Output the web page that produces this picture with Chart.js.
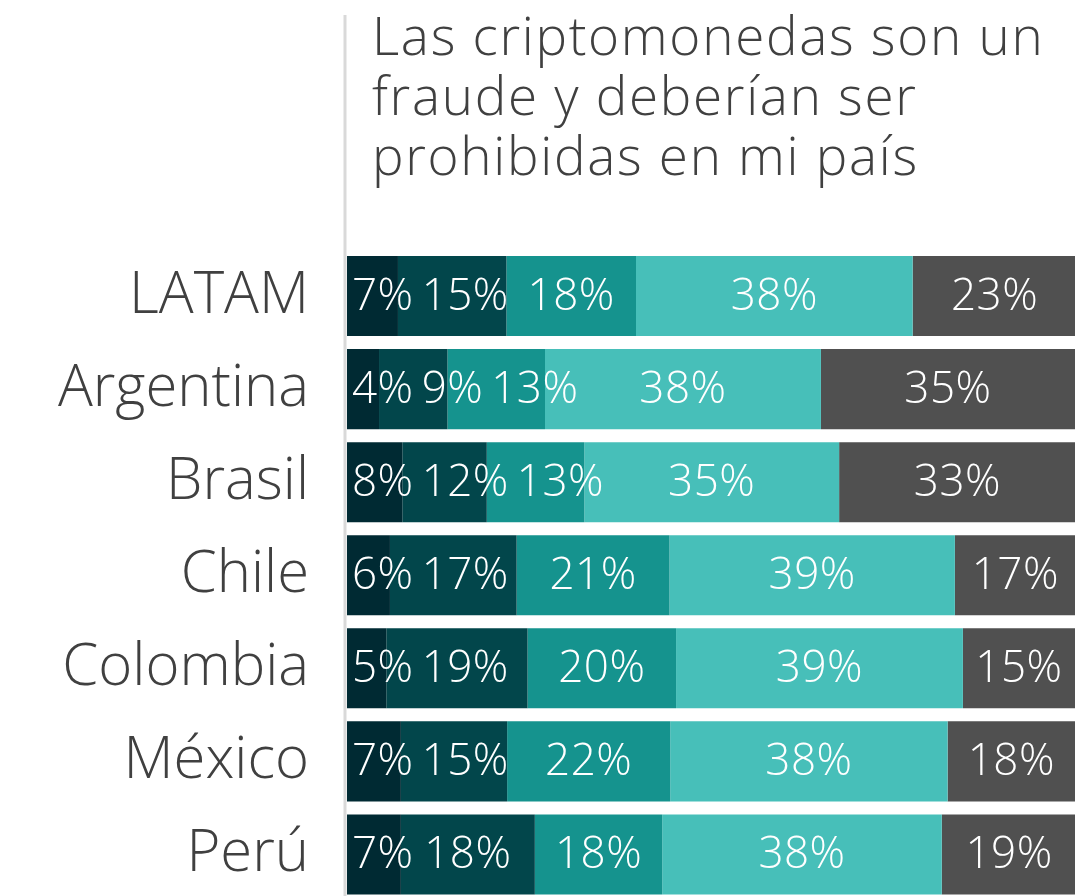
<!DOCTYPE html>
<html>
<head>
<meta charset="utf-8">
<script src="https://cdn.jsdelivr.net/npm/chart.js@4.4.1/dist/chart.umd.min.js"></script>
<style>
  html, body { margin: 0; padding: 0; background: #ffffff; overflow: hidden; }
  canvas { display: block; }
</style>
</head>
<body>
<canvas id="c" width="1075" height="901" style="width:1075px;height:901px"></canvas>
<script>
// ---- Data ----
const titleLines = ["Las criptomonedas son un", "fraude y deberían ser", "prohibidas en mi país"];
const categories = ["LATAM", "Argentina", "Brasil", "Chile", "Colombia", "México", "Perú"];
const seriesNames = ["Totalmente de acuerdo", "De acuerdo", "Neutral", "En desacuerdo", "Totalmente en desacuerdo"];
const s1 = [7.0, 4.4, 7.6, 5.9, 5.4, 7.4, 7.4];
const s2 = [14.9, 9.4, 11.6, 17.4, 19.4, 14.6, 18.4];
const s3 = [17.8, 13.4, 13.4, 21.0, 20.4, 22.4, 17.5];
const s4 = [38.0, 37.9, 35.0, 39.2, 39.4, 38.1, 38.4];
const s5 = [22.5, 34.9, 32.5, 16.6, 15.4, 17.5, 18.5];
const seriesColors = ["#002a33", "#02464b", "#15938e", "#47bfb9", "#505050"];

const FONT = "'Open Sans', 'DejaVu Sans', sans-serif";

const decorPlugin = {
  id: 'decor',
  beforeDatasetsDraw(chart) {
    const ctx = chart.ctx;
    const left = chart.chartArea.left;
    ctx.save();
    ctx.strokeStyle = '#d9d9d9';
    ctx.lineWidth = 3;
    ctx.beginPath();
    ctx.moveTo(left - 2, 15);
    ctx.lineTo(left - 2, chart.height);
    ctx.stroke();
    // title
    ctx.fillStyle = '#404040';
    ctx.font = '300 53px ' + FONT;
    ctx.letterSpacing = '1.7px';
    ctx.textAlign = 'left';
    ctx.textBaseline = 'alphabetic';
    titleLines.forEach((t, i) => ctx.fillText(t, left + 25, 55 + i * 60));
    ctx.restore();
  },
  afterDatasetsDraw(chart) {
    const ctx = chart.ctx;
    ctx.save();
    ctx.font = '300 44px ' + FONT;
    ctx.letterSpacing = '0.5px';
    ctx.fillStyle = '#ffffff';
    ctx.textAlign = 'left';
    ctx.textBaseline = 'middle';
    const n = chart.data.labels.length;
    for (let j = 0; j < n; j++) {
      let prevRight = -Infinity;
      chart.data.datasets.forEach((ds, di) => {
        const el = chart.getDatasetMeta(di).data[j];
        const txt = Math.round(ds.data[j]) + '%';
        const w = ctx.measureText(txt).width;
        const lo = Math.min(el.x, el.base), hi = Math.max(el.x, el.base);
        let x = (lo + hi) / 2 - w / 2;
        if (di === 0) x = Math.max(x, lo + 5);
        x = Math.max(x, prevRight + 8);
        ctx.fillText(txt, x, el.y + 1);
        prevRight = x + w;
      });
    }
    ctx.restore();
  }
};

const datasets = [s1, s2, s3, s4, s5].map((d, i) => ({
  label: seriesNames[i],
  data: d,
  backgroundColor: seriesColors[i],
  borderWidth: 0,
  barPercentage: 0.86,
  categoryPercentage: 1.0
}));

new Chart(document.getElementById('c'), {
  type: 'bar',
  data: { labels: categories, datasets },
  options: {
    indexAxis: 'y',
    responsive: false,
    animation: false,
    layout: { padding: { top: 249.5, right: 0, bottom: 0, left: 0 } },
    plugins: {
      legend: { display: false },
      tooltip: { enabled: false },
      title: { display: false }
    },
    scales: {
      x: { stacked: true, min: 0, max: 100, display: false },
      y: {
        stacked: true,
        border: { display: false },
        grid: { display: false, drawTicks: false },
        ticks: {
          color: '#404040',
          font: { family: FONT, size: 58, weight: '300' },
          padding: 38
        },
        afterFit(scale) {
          scale.width = 347;
          scale.paddingTop = 0;
          scale.paddingBottom = 0;
        }
      }
    }
  },
  plugins: [decorPlugin]
});
</script>
</body>
</html>
